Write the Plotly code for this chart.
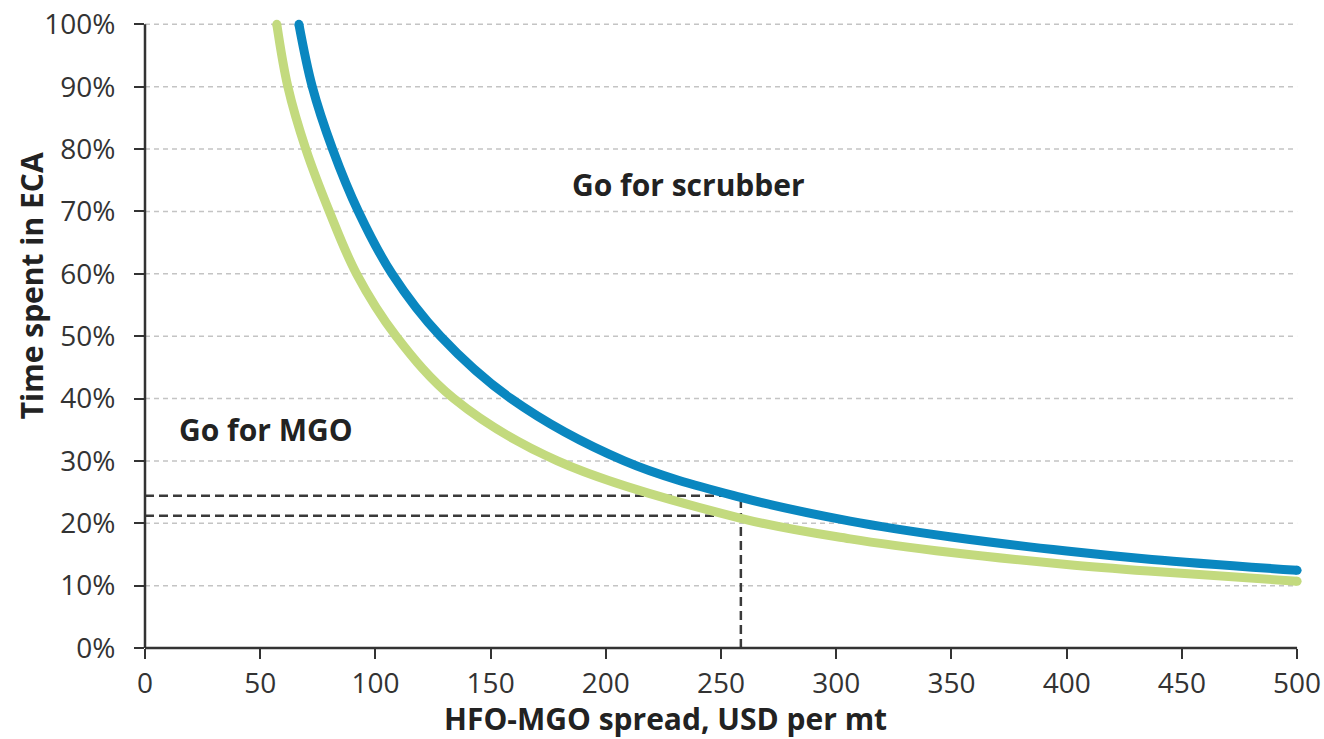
import plotly.graph_objects as go

# Break-even curves: share of sailing time in ECA vs HFO-MGO price spread
blue_spread = [66.8, 72.6, 81.4, 92.6, 107.2, 128.2, 158.8, 208.0, 258.6, 306, 350, 400, 437, 500]
blue_share = [100, 90, 80, 70, 60, 50, 40, 30, 24.15, 20.35, 17.8, 15.55, 14.2, 12.45]

green_spread = [57.2, 62.0, 69.8, 80.0, 91.8, 109.0, 134.0, 179.0, 258.6, 306, 350, 400, 437, 500]
green_share = [100, 90, 80, 70, 60, 50, 40, 30, 20.8, 17.5, 15.3, 13.4, 12.3, 10.7]

# Reference case marked with dashed guides
ref_spread = 258.6
ref_blue = 24.4
ref_green = 21.2

x_ticks = [0, 50, 100, 150, 200, 250, 300, 350, 400, 450, 500]
y_ticks = [0, 10, 20, 30, 40, 50, 60, 70, 80, 90, 100]
y_tick_text = [f"{v}%" for v in y_ticks]

BLUE = "#0a87c0"
GREEN = "#c3da7e"
INK = "#222222"
FONT = "Open Sans"

X_MAX = 503.0
Y_MAX = 101.5

fig = go.Figure()

# horizontal gridlines stopping at the last x tick
for v in y_ticks[1:]:
    fig.add_shape(type="line", xref="x", yref="y", x0=0, x1=x_ticks[-1], y0=v, y1=v,
                  line=dict(color="#c4c4c4", width=1.5, dash="5px,4px"), layer="below")

# dashed guide lines for the reference spread
guide = dict(color="#3a3a3a", width=2.5, dash="9px,5px")
fig.add_trace(go.Scatter(x=[0, ref_spread], y=[ref_blue, ref_blue], mode="lines",
                         line=guide, hoverinfo="skip", showlegend=False))
fig.add_trace(go.Scatter(x=[0, ref_spread], y=[ref_green, ref_green], mode="lines",
                         line=guide, hoverinfo="skip", showlegend=False))
fig.add_trace(go.Scatter(x=[ref_spread, ref_spread], y=[0, ref_blue], mode="lines",
                         line=guide, hoverinfo="skip", showlegend=False))

for xs, ys, col in [(green_spread, green_share, GREEN), (blue_spread, blue_share, BLUE)]:
    fig.add_trace(go.Scatter(x=xs, y=ys, mode="lines",
                             line=dict(color=col, width=9, shape="spline", smoothing=1.0),
                             showlegend=False))
    # rounded line ends
    fig.add_trace(go.Scatter(x=[xs[0], xs[-1]], y=[ys[0], ys[-1]], mode="markers",
                             marker=dict(color=col, size=9, line=dict(width=0)),
                             cliponaxis=False, showlegend=False, hoverinfo="skip"))

fig.update_xaxes(
    range=[0, X_MAX], tickvals=x_ticks, ticks="outside", ticklen=10, tickwidth=2,
    tickcolor="#333", showline=False, showgrid=False, zeroline=False, automargin=False,
    tickfont=dict(family=FONT, size=28, color="#333"), ticklabelstandoff=0,
)
fig.update_yaxes(
    range=[0, Y_MAX], tickvals=y_ticks, ticktext=y_tick_text, ticks="outside",
    ticklen=10, tickwidth=2, tickcolor="#333", showline=False, zeroline=False,
    automargin=False, showgrid=False,
    tickfont=dict(family=FONT, size=28, color="#333"), ticklabelstandoff=13,
)

# axis lines ending at the last tick values
fig.add_shape(type="line", xref="paper", yref="paper", x0=0, x1=0, y0=0, y1=100 / Y_MAX,
              line=dict(color="#333", width=2.5))
fig.add_shape(type="line", xref="paper", yref="paper", x0=0, x1=500 / X_MAX, y0=0, y1=0,
              line=dict(color="#333", width=2.5))

fig.add_annotation(text="<b>Go for scrubber</b>", x=236, y=74.3, xref="x", yref="y",
                   xanchor="center", yanchor="middle", showarrow=False,
                   font=dict(family=FONT, size=30, color=INK))
fig.add_annotation(text="<b>Go for MGO</b>", x=52.3, y=35.0, xref="x", yref="y",
                   xanchor="center", yanchor="middle", showarrow=False,
                   font=dict(family=FONT, size=30, color=INK))
fig.add_annotation(text="<b>Time spent in ECA</b>", textangle=-90, xref="paper", x=0,
                   xshift=-114, xanchor="center", yref="y", y=58.0, yanchor="middle",
                   showarrow=False, font=dict(family=FONT, size=30, color=INK))
fig.add_annotation(text="<b>HFO-MGO spread, USD per mt</b>", xref="x", x=226,
                   xanchor="center", yref="paper", y=0, yshift=-70, yanchor="middle",
                   showarrow=False, font=dict(family=FONT, size=30, color=INK))

fig.update_layout(
    width=1324, height=739,
    margin=dict(l=145, r=20, t=15, b=91),
    plot_bgcolor="white", paper_bgcolor="white",
)

fig.write_html("out.html")
